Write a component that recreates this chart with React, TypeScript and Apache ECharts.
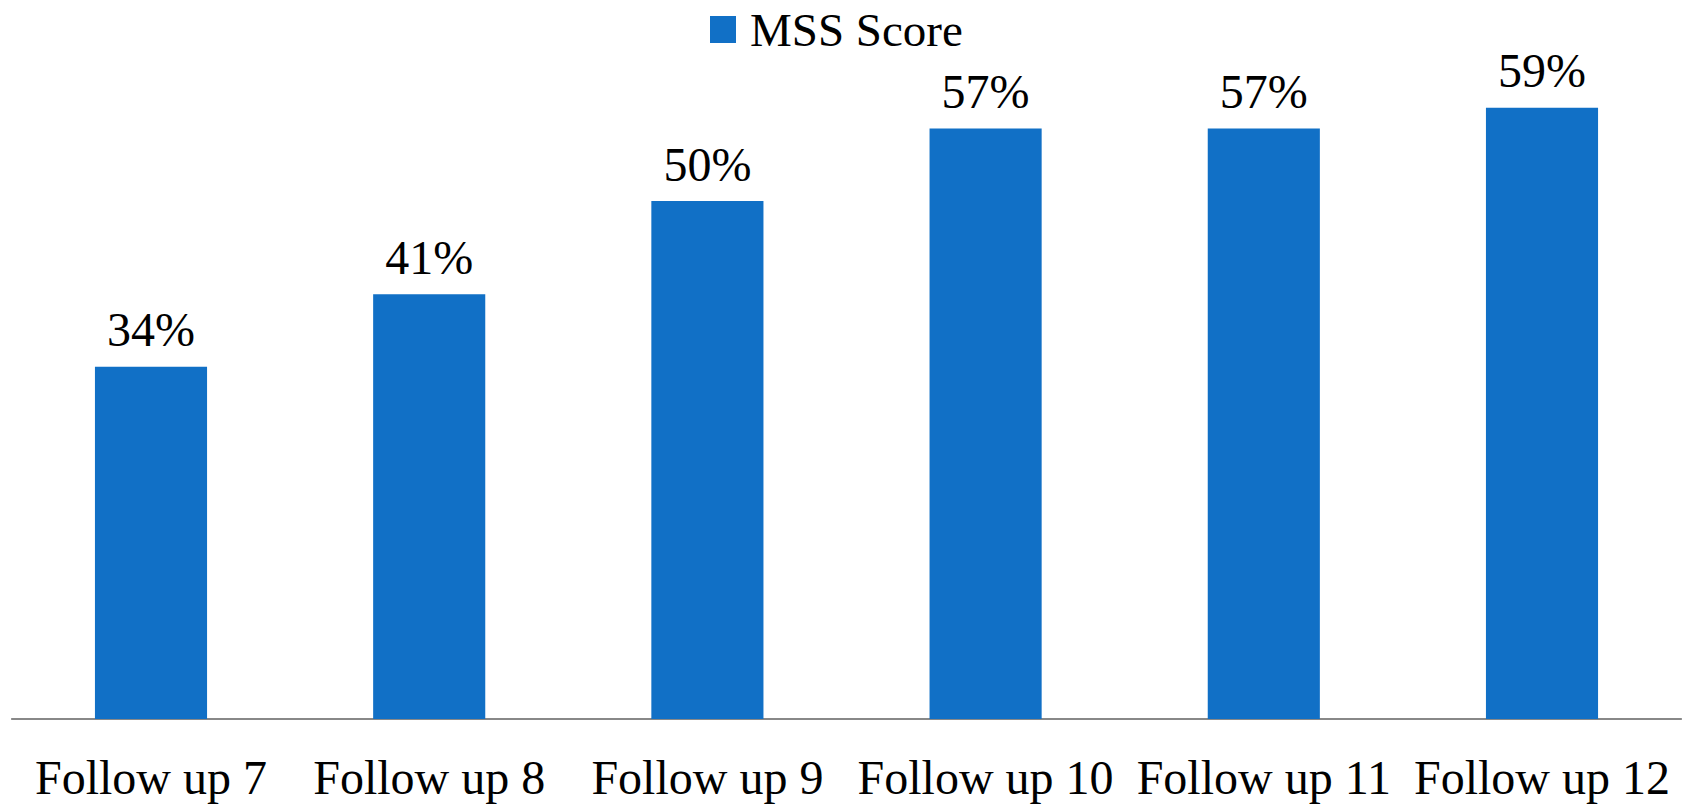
import React, { useEffect, useRef } from "react";
import * as echarts from "echarts";

const categories = ["Follow up 7", "Follow up 8", "Follow up 9", "Follow up 10", "Follow up 11", "Follow up 12"];
const mssScore = [34, 41, 50, 57, 57, 59];
const seriesName = "MSS Score";

const FONT = "'Liberation Serif', 'DejaVu Serif', serif";

export default function App() {
  const ref = useRef<HTMLDivElement>(null);
  useEffect(() => {
    if (!ref.current) return;
    const chart = echarts.init(ref.current, undefined, { renderer: "svg" });
    chart.setOption({
      animation: false,
      textStyle: { fontFamily: FONT },
      legend: {
        data: [seriesName],
        top: 6,
        padding: 0,
        left: 710,
        icon: "rect",
        itemWidth: 26,
        itemHeight: 27,
        itemGap: 10,
        textStyle: { fontSize: 47, color: "#000", fontFamily: FONT, padding: [0, 0, 0, 9] },
      },
      grid: { left: 11.9, right: 10.9, top: 45.6, bottom: 90, containLabel: false },
      xAxis: {
        type: "category",
        data: categories,
        axisTick: { show: false },
        axisLine: { lineStyle: { color: "#888888", width: 2 } },
        axisLabel: { fontSize: 48, color: "#000", margin: 34, fontFamily: FONT, interval: 0 },
      },
      yAxis: {
        type: "value",
        min: 0,
        max: 65,
        show: false,
        splitLine: { show: false },
      },
      series: [
        {
          name: seriesName,
          type: "bar",
          data: mssScore,
          barWidth: "40.3%",
          itemStyle: { color: "#1170C6" },
          label: {
            show: true,
            position: "top",
            distance: 13,
            formatter: (p: any) => p.value + "%",
            fontSize: 48,
            color: "#000",
            fontFamily: FONT,
          },
        },
      ],
    });
    return () => chart.dispose();
  }, []);
  return (
    <div
      ref={ref}
      style={{ position: "absolute", left: 0, top: 0, width: 1692, height: 809 }}
    />
  );
}
